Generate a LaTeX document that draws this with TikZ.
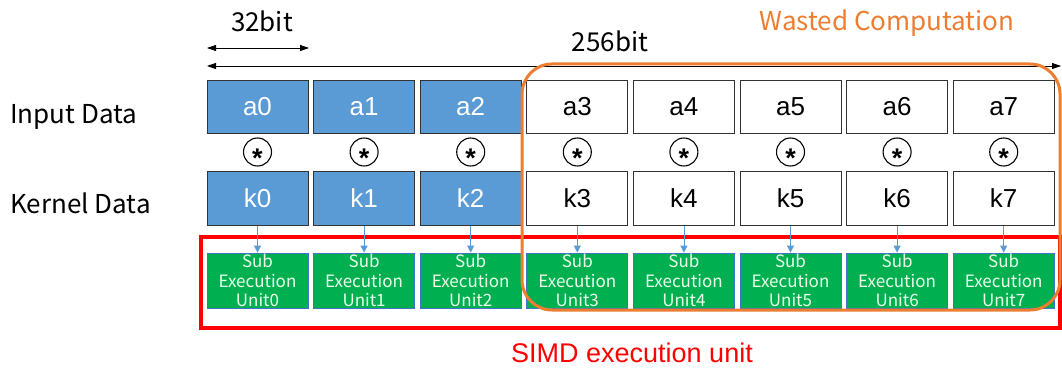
\documentclass[tikz,border=0pt]{standalone}
\usepackage{fontspec}
\setmainfont{Liberation Sans}
\newfontfamily\gothic{Noto Sans CJK JP}
\usetikzlibrary{arrows.meta}
\definecolor{cellblue}{HTML}{5B9BD5}
\definecolor{unitgreen}{HTML}{00B050}
\definecolor{unitedge}{HTML}{4472C4}
\definecolor{wasteorange}{HTML}{ED7D31}
\definecolor{simdred}{HTML}{FF0000}
\tikzset{
  cell/.style={draw=black!80, line width=1pt, minimum width=101pt, inner sep=0pt,
    font=\fontsize{26}{26}\selectfont},
  used/.style={cell, fill=cellblue, text=white},
  idle/.style={cell, fill=white, text=black},
  unit/.style={draw=unitedge, line width=0.8pt, fill=unitgreen, text=white!92!green,
    minimum width=101pt, minimum height=55pt, inner sep=0pt, align=center,
    font=\gothic\fontsize{17}{19.5}\selectfont},
  opmark/.style={circle, draw=black, line width=1.1pt, minimum size=28pt, inner sep=0pt,
    text height=0pt, text depth=0pt, font=\bfseries\fontsize{27}{27}\selectfont},
  feed/.style={draw=cellblue, line width=0.8pt, -{Triangle[length=7pt,width=7pt]}},
  span/.style={draw=black, line width=0.8pt, {Triangle[length=9pt,width=6pt]}-{Triangle[length=9pt,width=6pt]}},
  caption/.style={font=\gothic\fontsize{26}{26}\selectfont, inner sep=0pt},
}
\begin{document}
\begin{tikzpicture}[x=1pt,y=-1pt]
\useasboundingbox (0,0) rectangle (1062,369);

% row labels
\node[caption, anchor=west] (inlbl) at (10,117) {Input Data};
\node[caption, anchor=west] (kerlbl) at (10,203) {Kernel Data};

% SIMD unit frame
\node[draw=simdred, line width=3.5pt, minimum width=859pt, minimum height=91pt, inner sep=0pt]
  (simd) at (630.5,282.5) {};
\node[font=\fontsize{27}{27}\selectfont, text=simdred] (simdlbl) at (632,353) {SIMD execution unit};

% lanes
\foreach \i/\s in {0/used,1/used,2/used,3/idle,4/idle,5/idle,6/idle,7/idle} {
  \pgfmathsetmacro{\cx}{257.5+106.6*\i}
  \node[\s, minimum height=53pt] (a\i) at (\cx,106.5) {a\i};
  \node[opmark] (op\i) at (\cx,152) {\raisebox{-15.5pt}[0pt][0pt]{*}};
  \node[\s, minimum height=54pt] (k\i) at (\cx,198) {k\i};
  \node[unit] (u\i) at (\cx,280.5) {Sub\\Execution\\Unit\i};
  \draw[feed] (k\i.south) -- (u\i.north);
}

% bit-width arrows
\coordinate (w32l) at (207,48);
\coordinate (w32r) at (309,48);
\draw[span] (w32l) -- (w32r);
\node[caption] (w32lbl) at (262,21) {32bit};
\coordinate (w256l) at (207,66);
\coordinate (w256r) at (1061,66);
\draw[span] (w256l) -- (w256r);
\node[caption] (w256lbl) at (610,41) {256bit};

% wasted lanes
\draw[wasteorange, line width=3pt, rounded corners=30pt] (522,64) rectangle (1060,310);
\node[font=\gothic\fontsize{26}{26}\selectfont, text=wasteorange, inner sep=0pt] (wastelbl) at (887,23) {Wasted Computation};
\end{tikzpicture}
\end{document}
